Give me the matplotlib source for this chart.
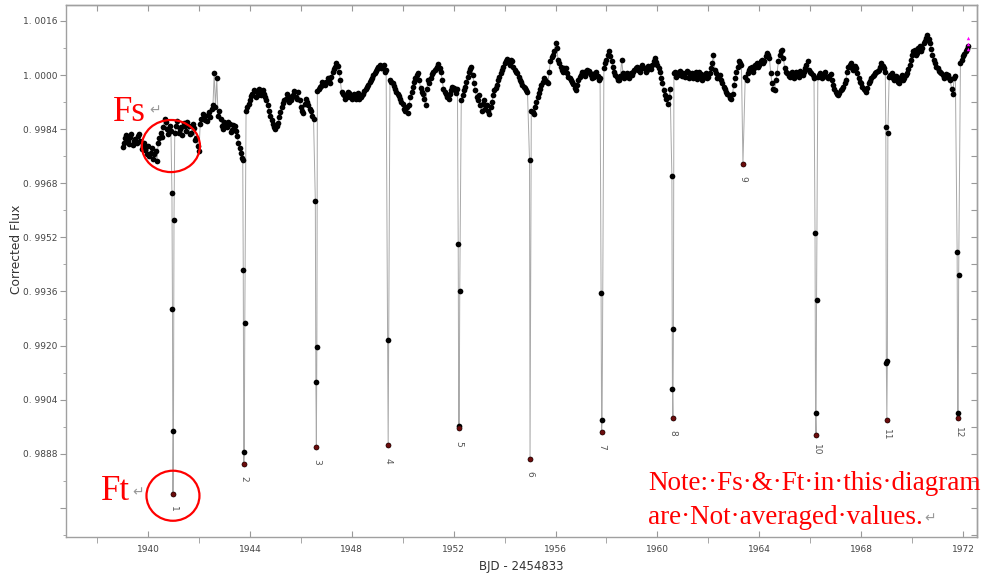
import numpy as np
import matplotlib
matplotlib.use("Agg")
import matplotlib.pyplot as plt
from matplotlib.patches import Ellipse
from matplotlib.ticker import MultipleLocator, FuncFormatter

# ---------------- data ----------------
# out-of-transit flux, two interleaved samplings (0.1 d step, offset 0.05 d)
base_start = 1939.0
base_step = 0.1
base_flux = [
    0.99787, 0.99813, 0.99808, 0.99816, 0.99793, 0.99811, 0.99819, 0.99805, 0.99790, 0.99778,
    0.99790, 0.99770, 0.99752, 0.99775, 0.99800, 0.99830, 0.99845, 0.99862, 0.99825, 0.99835,
    0.99840, 0.99850, 0.99828, 0.99845, 0.99858, 0.99835, 0.99848, 0.99830, 0.99842, 0.99815,
    0.99775, 0.99870, 0.99880, 0.99865, 0.99890, 0.99900, 1.00005, 0.99990, 0.99895, 0.99850,
    0.99862, 0.99845, 0.99855, 0.99838, 0.99848, 0.99820, 0.99785, 0.99755, 0.99880, 0.99905,
    0.99925, 0.99945, 0.99952, 0.99940, 0.99948, 0.99955, 0.99935, 0.99910, 0.99880, 0.99855,
    0.99840, 0.99858, 0.99890, 0.99918, 0.99930, 0.99938, 0.99925, 0.99942, 0.99935, 0.99950,
    0.99905, 0.99888, 0.99930, 0.99910, 0.99895, 0.99870, 0.99940, 0.99960, 0.99968, 0.99975,
    0.99978, 0.99985, 0.99995, 1.00018, 1.00035, 1.00010, 0.99950, 0.99942, 0.99935, 0.99948,
    0.99930, 0.99945, 0.99938, 0.99928, 0.99940, 0.99952, 0.99965, 0.99978, 0.99990, 1.00005,
    1.00018, 1.00030, 1.00022, 1.00008, 1.00000, 0.99985, 0.99975, 0.99960, 0.99945, 0.99930,
    0.99915, 0.99895, 0.99888, 0.99935, 0.99965, 0.99990, 1.00005, 0.99962, 0.99945, 0.99912,
    0.99985, 0.99992, 1.00008, 1.00018, 1.00032, 1.00010, 0.99960, 0.99945, 0.99930, 0.99955,
    0.99962, 0.99948, 0.99950, 0.99925, 0.99955, 0.99978, 1.00010, 1.00025, 0.99975, 0.99935,
    0.99940, 0.99895, 0.99925, 0.99910, 0.99885, 0.99920, 0.99955, 0.99970, 0.99995, 1.00015,
    1.00035, 1.00048, 1.00030, 1.00040, 1.00015, 1.00005, 0.99985, 0.99970, 0.99962, 0.99950,
    0.99920, 0.99890, 0.99905, 0.99935, 0.99960, 0.99978, 0.99985, 0.99975, 1.00040, 1.00060,
    1.00095, 1.00045, 1.00025, 1.00010, 1.00020, 0.99995, 0.99985, 0.99972, 0.99955, 0.99985,
    1.00000, 1.00010, 1.00005, 1.00012, 1.00000, 0.99995, 1.00008, 0.99985, 1.00000, 1.00020,
    1.00045, 1.00070, 1.00040, 1.00010, 0.99995, 0.99985, 1.00045, 0.99990, 1.00005, 0.99990,
    1.00000, 1.00015, 1.00025, 1.00010, 1.00030, 1.00020, 1.00015, 1.00025, 1.00030, 1.00050,
    1.00030, 1.00010, 0.99975, 0.99940, 0.99915, 0.99960, 1.00000, 1.00010, 1.00000, 1.00012,
    1.00005, 0.99995, 1.00010, 1.00000, 0.99990, 1.00008, 0.99995, 1.00002, 0.99990, 1.00005,
    0.99995, 1.00020, 1.00060, 1.00005, 0.99998, 0.99985, 0.99965, 0.99950, 0.99940, 0.99930,
    0.99970, 1.00010, 1.00040, 1.00030, 1.00010, 0.99985, 1.00015, 1.00025, 1.00020, 1.00035,
    1.00030, 1.00045, 1.00040, 1.00065, 1.00050, 0.99975, 0.99955, 1.00005, 1.00060, 1.00075,
    1.00020, 1.00005, 0.99995, 1.00008, 0.99998, 1.00005, 1.00012, 1.00000, 1.00020, 1.00040,
    1.00010, 1.00000, 1.00000, 0.99995, 1.00005, 0.99998, 1.00008, 0.99990, 1.00002, 0.99970,
    0.99950, 0.99940, 0.99955, 0.99965, 0.99985, 1.00025, 1.00035, 1.00015, 1.00020, 0.99990,
    0.99975, 0.99960, 0.99950, 0.99975, 0.99990, 1.00000, 1.00008, 1.00015, 1.00035, 1.00020,
    1.00010, 0.99995, 1.00005, 0.99985, 0.99995, 0.99975, 1.00000, 0.99990, 1.00005, 1.00030,
    1.00060, 1.00075, 1.00065, 1.00085, 1.00080, 1.00100, 1.00118, 1.00095, 1.00060, 1.00035,
    1.00020, 1.00010, 1.00000, 0.99995, 1.00000, 0.99985, 0.99945, 0.99998, 1.00010, 1.00035,
    1.00055, 1.00070, 1.00085,
]
base_start_b = 1939.05
base_flux_b = [
    0.99800, 0.99822, 0.99795, 0.99825, 0.99805, 0.99798, 0.99826, 0.99780, 0.99800, 0.99765,
    0.99760, 0.99785, 0.99765, 0.99745, 0.99815, 0.99818, 0.99870, 0.99840, 0.99848, 0.99812,
    0.99830, 0.99865, 0.99840, 0.99822, 0.99850, 0.99862, 0.99825, 0.99855, 0.99808, 0.99790,
    0.99855, 0.99885, 0.99868, 0.99882, 0.99875, 0.99910, 0.99905, 0.99880, 0.99870, 0.99840,
    0.99850, 0.99860, 0.99832, 0.99852, 0.99835, 0.99800, 0.99770, 0.99745, 0.99895, 0.99915,
    0.99938, 0.99955, 0.99935, 0.99958, 0.99940, 0.99945, 0.99925, 0.99895, 0.99868, 0.99845,
    0.99848, 0.99875, 0.99905, 0.99925, 0.99945, 0.99920, 0.99935, 0.99952, 0.99928, 0.99925,
    0.99895, 0.99915, 0.99920, 0.99900, 0.99880, 0.99885, 0.99952, 0.99965, 0.99980, 0.99970,
    0.99990, 0.99975, 1.00008, 1.00025, 1.00028, 0.99985, 0.99945, 0.99930, 0.99950, 0.99935,
    0.99942, 0.99930, 0.99948, 0.99935, 0.99945, 0.99960, 0.99970, 0.99985, 1.00000, 1.00012,
    1.00025, 1.00020, 1.00030, 1.00015, 0.99992, 0.99978, 0.99968, 0.99950, 0.99938, 0.99920,
    0.99900, 0.99905, 0.99910, 0.99950, 0.99978, 1.00000, 0.99985, 0.99950, 0.99930, 0.99960,
    0.99975, 1.00002, 1.00015, 1.00025, 1.00020, 0.99985, 0.99950, 0.99935, 0.99945, 0.99965,
    0.99955, 0.99958, 0.99915, 0.99940, 0.99965, 0.99995, 1.00018, 1.00000, 0.99955, 0.99925,
    0.99910, 0.99915, 0.99900, 0.99895, 0.99905, 0.99940, 0.99962, 0.99985, 1.00005, 1.00025,
    1.00042, 1.00038, 1.00045, 1.00025, 1.00010, 0.99995, 0.99978, 0.99965, 0.99955, 0.99940,
    0.99895, 0.99885, 0.99920, 0.99948, 0.99970, 0.99990, 0.99978, 1.00010, 1.00052, 1.00070,
    1.00080, 1.00035, 1.00015, 1.00022, 1.00005, 0.99990, 0.99978, 0.99962, 0.99970, 0.99995,
    1.00008, 0.99998, 1.00015, 1.00005, 0.99990, 1.00005, 0.99998, 0.99992, 1.00010, 1.00035,
    1.00060, 1.00055, 1.00025, 1.00000, 0.99985, 0.99998, 1.00005, 1.00000, 0.99995, 1.00005,
    1.00010, 1.00020, 1.00015, 1.00025, 1.00022, 1.00010, 1.00028, 1.00018, 1.00040, 1.00038,
    1.00020, 0.99990, 0.99955, 0.99930, 0.99935, 0.99980, 1.00005, 0.99995, 1.00008, 0.99998,
    1.00000, 1.00012, 0.99992, 1.00005, 1.00000, 0.99988, 1.00010, 0.99985, 1.00000, 0.99992,
    1.00005, 1.00035, 1.00015, 0.99990, 1.00000, 0.99975, 0.99958, 0.99945, 0.99932, 0.99945,
    0.99990, 1.00025, 1.00035, 1.00040, 0.99995, 1.00005, 1.00020, 1.00010, 1.00030, 1.00025,
    1.00040, 1.00035, 1.00055, 1.00060, 1.00005, 0.99960, 0.99985, 1.00040, 1.00070, 1.00050,
    1.00010, 0.99998, 1.00005, 0.99990, 1.00008, 0.99995, 1.00005, 1.00010, 1.00030, 1.00015,
    1.00005, 0.99990, 1.00000, 1.00000, 0.99990, 1.00002, 0.99995, 0.99998, 0.99985, 0.99958,
    0.99945, 0.99948, 0.99960, 0.99975, 1.00010, 1.00030, 1.00022, 1.00028, 1.00005, 0.99980,
    0.99965, 0.99955, 0.99962, 0.99982, 0.99998, 1.00005, 1.00012, 1.00025, 1.00028, 1.00010,
    1.00000, 1.00000, 0.99990, 0.99998, 0.99980, 0.99992, 0.99985, 1.00000, 1.00018, 1.00045,
    1.00070, 1.00060, 1.00080, 1.00072, 1.00095, 1.00108, 1.00105, 1.00078, 1.00045, 1.00025,
    1.00012, 1.00005, 0.99990, 1.00002, 0.99992, 0.99960, 0.99990, 1.00000, 1.00020, 1.00045,
    1.00062, 1.00078,
]

transit_time = [1940.98, 1943.76, 1946.60, 1949.42, 1952.21, 1954.99,
                1957.81, 1960.60, 1963.36, 1966.22, 1969.01, 1971.80]
transit_flux = [
    [0.99650, 0.99308, 0.98761, 0.98946, 0.99571],
    [0.99750, 0.99422, 0.98851, 0.98886, 0.99266],
    [0.99627, 0.99093, 0.98901, 0.99196],
    [0.99217, 0.98905],
    [0.99500, 0.98955, 0.98962, 0.99360],
    [0.99748, 0.98865],
    [0.99354, 0.98945, 0.98980],
    [0.99701, 0.99072, 0.98986, 0.99248],
    [0.99738],
    [0.99534, 0.99001, 0.98936, 0.99336],
    [0.99846, 0.99148, 0.98980, 0.99155, 0.99828],
    [0.99476, 0.99001, 0.98987, 0.99410],
]
transit_label = ["1", "2", "3", "4", "5", "6", "7", "8", "9", "10", "11", "12"]

end_time = [1972.20, 1972.20, 1972.20]
end_flux = [1.00078, 1.00093, 1.00108]

# ---------------- assemble ----------------
bt_a = np.round(base_start + base_step * np.arange(len(base_flux)), 2)
bt_b = np.round(base_start_b + base_step * np.arange(len(base_flux_b)), 2)
base_time = np.concatenate([bt_a, bt_b])
base_all = np.concatenate([np.array(base_flux), np.array(base_flux_b)])
tc_arr = np.array(transit_time)
keep = np.array([np.min(np.abs(tc_arr - t)) >= 0.05 for t in base_time])

t_all = list(base_time[keep])
f_all = list(base_all[keep])
min_t, min_f = [], []
for tc, fl in zip(transit_time, transit_flux):
    n = len(fl)
    for i, v in enumerate(fl):
        t_all.append(tc + 0.02 * (i - (n - 1) / 2))
        f_all.append(v)
    k = int(np.argmin(fl))
    min_t.append(tc + 0.02 * (k - (n - 1) / 2))
    min_f.append(fl[k])
order = np.argsort(t_all)
t_all = np.array(t_all)[order]
f_all = np.array(f_all)[order]

# ---------------- figure ----------------
W, H = 990, 576
fig = plt.figure(figsize=(W / 100, H / 100), dpi=100)
ax = fig.add_axes([66 / W, 39 / H, 911 / W, 532 / H])

ax.plot(t_all, f_all, "-", color="#a8a8a8", lw=0.7, zorder=1)
ax.plot(t_all, f_all, "o", ms=4.1, color="black", mec="black", mew=0, zorder=2)
ax.plot(min_t, min_f, "o", ms=3.4, color="#6a0d0d", mew=0, zorder=3)
ax.plot(end_time, end_flux, "^", ms=2.5, color="magenta", mew=0, zorder=4)

for tc, fm, lab in zip(min_t, min_f, transit_label):
    ax.text(tc, fm - 0.00045, lab, rotation=270, ha="center", va="center",
            fontsize=6.5, color="#555555")

ax.set_xlim(1936.78, 1972.55)
ax.set_ylim(0.98634, 1.00207)


def yfmt(v, p):
    if v < 0.988:
        return ""
    return f"{v:.4f}".replace(".", ". ")


# ticks
ax.xaxis.set_major_locator(MultipleLocator(4))
ax.xaxis.set_minor_locator(MultipleLocator(2))
ax.yaxis.set_major_locator(MultipleLocator(0.0016))
ax.yaxis.set_minor_locator(MultipleLocator(0.0008))
ax.yaxis.set_major_formatter(FuncFormatter(yfmt))
ax.xaxis.set_major_formatter(FuncFormatter(lambda v, p: f"{v:.0f}"))
ax.tick_params(axis="x", which="major", direction="in", length=4, color="#999999",
               labelsize=6.5, labelcolor="#444444", pad=6)
ax.tick_params(axis="x", which="minor", direction="out", length=4, color="#999999")
ax.tick_params(axis="y", which="major", direction="out", length=4, color="#999999",
               labelsize=6.5, labelcolor="#444444", pad=2)
ax.tick_params(axis="y", which="minor", direction="out", length=2, color="#999999")

secx = ax.secondary_xaxis("top")
secx.xaxis.set_major_locator(MultipleLocator(2))
secx.tick_params(direction="in", length=4, color="#999999", labeltop=False)
secy = ax.secondary_yaxis("right")
secy.yaxis.set_major_locator(MultipleLocator(0.0008))
secy.tick_params(direction="in", length=4, color="#999999", labelright=False)
for a in (ax, secx, secy):
    for s in a.spines.values():
        s.set_color("#a0a0a0")
        s.set_linewidth(1.0)

ax.set_xlabel("BJD - 2454833", fontsize=8.5, color="#333333", labelpad=4)
ax.set_ylabel("Corrected Flux", fontsize=8.8, color="#333333")
ax.yaxis.set_label_coords(-0.047, 0.54)

# annotations
ax.add_patch(Ellipse((1940.90, 0.99790), 2.28, 0.00154, fill=False,
                     edgecolor="red", lw=1.6, zorder=5))
ax.add_patch(Ellipse((1940.98, 0.98756), 2.08, 0.00148, fill=False,
                     edgecolor="red", lw=1.6, zorder=5))

serif = "Liberation Serif"
fig.text(113 / W, 1 - 121 / H, "Fs", fontsize=25, color="red", family=serif, va="baseline")
fig.text(149 / W, 1 - 114 / H, "\u21b5", fontsize=10, color="#999999", va="baseline")
fig.text(101 / W, 1 - 500 / H, "Ft", fontsize=25, color="red", family=serif, va="baseline")
fig.text(132 / W, 1 - 496 / H, "\u21b5", fontsize=10, color="#999999", va="baseline")

fig.text(648 / W, 1 - 490 / H, "Note:\u00b7Fs\u00b7&\u00b7Ft\u00b7in\u00b7this\u00b7diagram",
         fontsize=19.5, color="red", family=serif, va="baseline")
note2 = fig.text(648 / W, 1 - 524 / H, "are\u00b7Not\u00b7averaged\u00b7values.",
                 fontsize=19.5, color="red", family=serif, va="baseline")
fig.canvas.draw()
bb = note2.get_window_extent()
fig.text((bb.x1 + 2) / W, (H - 522) / H, "\u21b5", fontsize=10, color="#999999",
         va="baseline")

fig.savefig("out.png", dpi=100, facecolor="white")
